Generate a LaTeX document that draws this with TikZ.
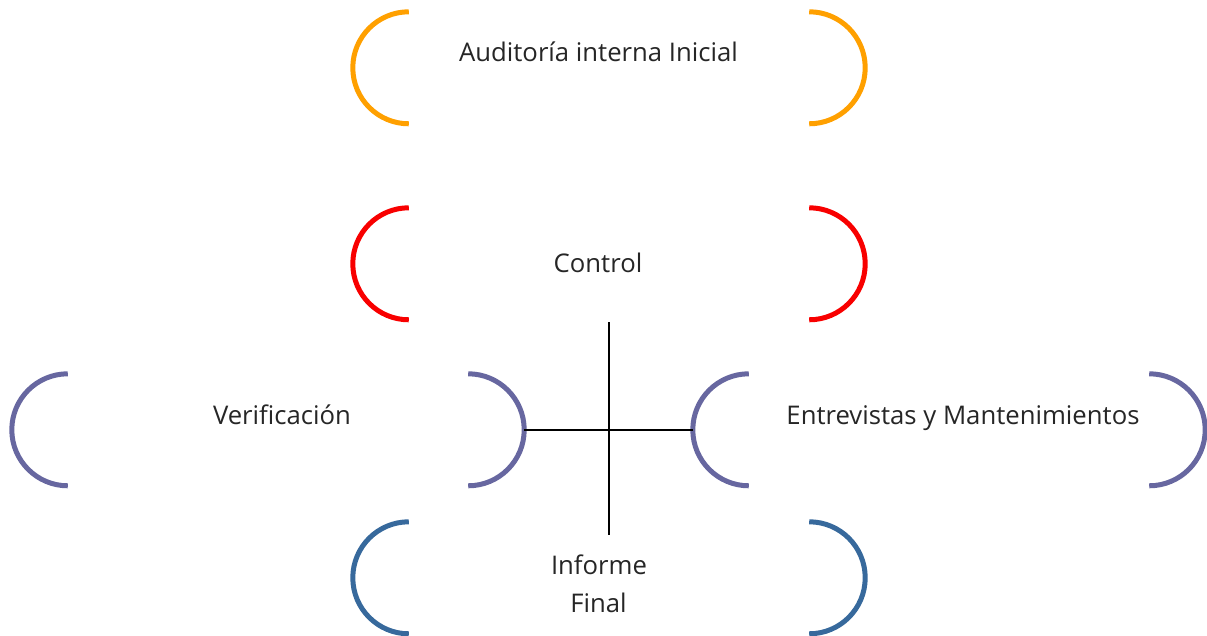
\documentclass[tikz,border=0pt]{standalone}
\usepackage{fontspec}
\setmainfont{Open Sans}
\begin{document}
\begin{tikzpicture}[x=1pt,y=1pt,
  box/.style={minimum width=512pt,minimum height=112pt,inner sep=0pt,draw=none},
  brk/.style={line width=5pt},
  lbl/.style={anchor=base,inner sep=0pt,font=\fontsize{25.7}{30}\selectfont,text=black!85},
  conn/.style={line width=1.6pt,black}]
\definecolor{corange}{HTML}{FFA000}
\definecolor{cred}{HTML}{F80000}
\definecolor{cpurple}{HTML}{6767A0}
\definecolor{cblue}{HTML}{37699C}
\useasboundingbox (0,0) rectangle (1207,636);
\node[box] (audit) at (609,568) {};
\node[box] (control) at (609,372) {};
\node[box] (verif) at (268,206) {};
\node[box] (entrev) at (949,206) {};
\node[box] (informe) at (609,58) {};
\foreach \n/\c in {audit/corange,control/cred,verif/cpurple,entrev/cpurple,informe/cblue}{
  \draw[brk,\c] ([xshift=56pt]\n.north west) arc[start angle=90,end angle=270,radius=56pt];
  \draw[brk,\c] ([xshift=-56pt]\n.north east) arc[start angle=90,end angle=-90,radius=56pt];
}
\node[lbl] (taudit) at (598.5,574) {Auditoría interna Inicial};
\node[lbl] (tcontrol) at (598,363) {Control};
\node[lbl] (tverif) at (282,211) {Verificación};
\node[lbl] (tentrev) at (963,211) {Entrevistas y Mantenimientos};
\node[lbl] (tinf1) at (599,61) {Informe};
\node[lbl] (tinf2) at (598.5,23) {Final};
\coordinate (vtop) at ([yshift=-2pt]control.south);
\coordinate (vbot) at ([yshift=-13pt]informe.north);
\draw[conn] (vtop) -- (vbot);
\draw[conn] (verif.east) -- (entrev.west);
\end{tikzpicture}
\end{document}
